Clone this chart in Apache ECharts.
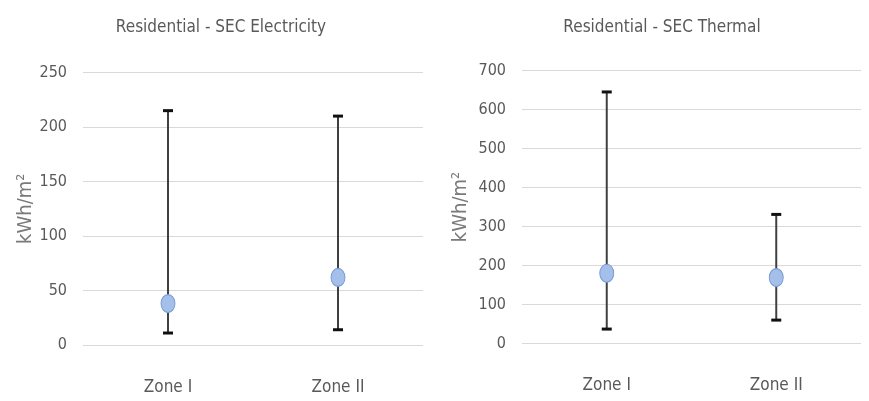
<!DOCTYPE html>
<html>
<head>
<meta charset="utf-8">
<script src="https://cdn.jsdelivr.net/npm/echarts@6/dist/echarts.min.js"></script>
<style>
html,body{margin:0;padding:0;background:#fff;}
#main{width:869px;height:401px;}
</style>
</head>
<body>
<div id="main"></div>
<script>
const categories = ['Zone I', 'Zone II'];
const elecMean = [38, 62];
const elecLow = [11, 14];
const elecHigh = [215, 210];
const thermMean = [180, 169];
const thermLow = [37, 60];
const thermHigh = [645, 331];
const elecTicks = [0, 50, 100, 150, 200, 250];
const thermTicks = [0, 100, 200, 300, 400, 500, 600, 700];

const FONT = '"Liberation Sans Narrow", "DejaVu Sans Condensed", "Open Sans", sans-serif';
const GRAY = '#595959';

const chart = echarts.init(document.getElementById('main'), null, {renderer: 'canvas'});

function errRender(params, api) {
  const x = api.value(0);
  const lo = api.coord([x, api.value(1)]);
  const hi = api.coord([x, api.value(2)]);
  const half = 5;
  return {
    type: 'group',
    children: [
      {type: 'line', shape: {x1: lo[0], y1: lo[1], x2: hi[0], y2: hi[1]}, style: {stroke: '#404040', lineWidth: 2}},
      {type: 'line', shape: {x1: lo[0] - half, y1: lo[1], x2: lo[0] + half, y2: lo[1]}, style: {stroke: '#111', lineWidth: 3}},
      {type: 'line', shape: {x1: hi[0] - half, y1: hi[1], x2: hi[0] + half, y2: hi[1]}, style: {stroke: '#111', lineWidth: 3}}
    ]
  };
}

function yAxis(idx, ticks) {
  const interval = ticks[1] - ticks[0];
  return {
    type: 'value', gridIndex: idx,
    min: ticks[0], max: ticks[ticks.length - 1], interval: interval,
    name: 'kWh/m²', nameLocation: 'middle', nameGap: idx === 0 ? 36 : 51, nameRotate: 90,
    nameTextStyle: {color: '#7a7a7a', fontFamily: FONT, fontSize: 20},
    axisLine: {show: false}, axisTick: {show: false},
    axisLabel: {color: GRAY, fontFamily: FONT, fontSize: 16, margin: 16},
    splitLine: {lineStyle: {color: '#d9d9d9', width: 1}}
  };
}

function xAxis(idx) {
  return {
    type: 'category', gridIndex: idx, data: categories,
    axisLine: {show: false}, axisTick: {show: false},
    axisLabel: {color: GRAY, fontFamily: FONT, fontSize: 17, margin: 34}
  };
}

chart.setOption({
  animation: false,
  title: [
    {text: 'Residential - SEC Electricity', left: 216, top: 14, textAlign: 'center',
     textStyle: {color: GRAY, fontFamily: FONT, fontSize: 17, fontWeight: 'normal'}},
    {text: 'Residential - SEC Thermal', left: 657, top: 14, textAlign: 'center',
     textStyle: {color: GRAY, fontFamily: FONT, fontSize: 17, fontWeight: 'normal'}}
  ],
  grid: [
    {left: 83, right: 446, top: 72.5, bottom: 56},
    {left: 522, right: 8, top: 70.5, bottom: 57.5}
  ],
  xAxis: [xAxis(0), xAxis(1)],
  yAxis: [yAxis(0, elecTicks), yAxis(1, thermTicks)],
  series: [
    {type: 'custom', xAxisIndex: 0, yAxisIndex: 0, renderItem: errRender,
     data: categories.map((c, i) => [i, elecLow[i], elecHigh[i]]), z: 2},
    {type: 'scatter', xAxisIndex: 0, yAxisIndex: 0, symbol: 'circle', symbolSize: [14, 18],
     itemStyle: {color: '#a4bfea', borderColor: '#7597d3', borderWidth: 1, opacity: 1},
     data: elecMean.map((v, i) => [i, v]), z: 3},
    {type: 'custom', xAxisIndex: 1, yAxisIndex: 1, renderItem: errRender,
     data: categories.map((c, i) => [i, thermLow[i], thermHigh[i]]), z: 2},
    {type: 'scatter', xAxisIndex: 1, yAxisIndex: 1, symbol: 'circle', symbolSize: [14, 18],
     itemStyle: {color: '#a4bfea', borderColor: '#7597d3', borderWidth: 1, opacity: 1},
     data: thermMean.map((v, i) => [i, v]), z: 3}
  ]
});
</script>
</body>
</html>
